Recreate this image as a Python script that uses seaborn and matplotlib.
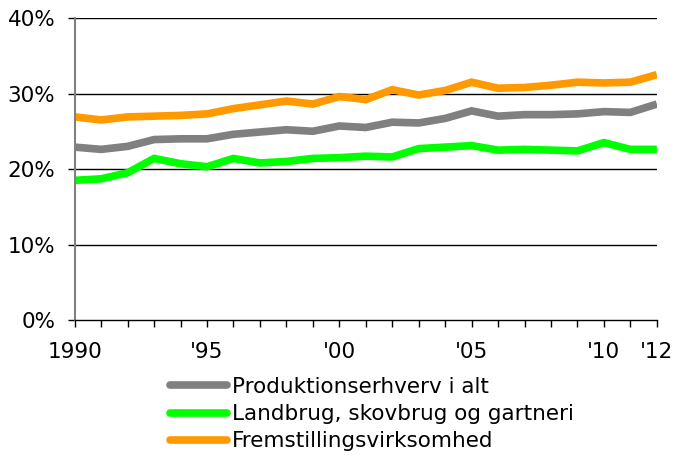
import numpy as np
import pandas as pd
import seaborn as sns
import matplotlib.pyplot as plt
from matplotlib.ticker import FixedLocator, FuncFormatter

years = list(range(1990, 2013))

produktion = [22.9, 22.6, 23.0, 23.9, 24.0, 24.0, 24.6, 24.9, 25.2, 25.0, 25.7, 25.5,
              26.2, 26.1, 26.7, 27.7, 27.0, 27.2, 27.2, 27.3, 27.6, 27.5, 28.6]
landbrug = [18.5, 18.7, 19.5, 21.4, 20.7, 20.3, 21.4, 20.8, 21.0, 21.4, 21.5, 21.7,
            21.6, 22.7, 22.9, 23.1, 22.5, 22.6, 22.5, 22.4, 23.5, 22.6, 22.6]
fremstilling = [26.9, 26.5, 26.9, 27.0, 27.1, 27.3, 28.0, 28.5, 29.0, 28.6, 29.6, 29.2,
                30.5, 29.8, 30.4, 31.5, 30.7, 30.8, 31.1, 31.5, 31.4, 31.5, 32.5]

names = ["Produktionserhverv i alt", "Landbrug, skovbrug og gartneri", "Fremstillingsvirksomhed"]
colors = ["#808080", "#00ff00", "#ff9900"]

tick_years = [1990, 1995, 2000, 2005, 2010, 2012]
tick_labels = ["1990", "'95", "'00", "'05", "'10", "'12"]
y_ticks = [0, 10, 20, 30, 40]

df = pd.DataFrame({
    "year": years * 3,
    "value": produktion + landbrug + fremstilling,
    "serie": [names[0]] * len(years) + [names[1]] * len(years) + [names[2]] * len(years),
})

sns.set_style("white")
plt.rcParams["font.family"] = ["DejaVu Sans"]
plt.rcParams["text.color"] = "black"
plt.rcParams["xtick.color"] = "black"
plt.rcParams["ytick.color"] = "black"

fig = plt.figure(figsize=(6.73, 4.55), dpi=100)
ax = fig.add_axes([0.111, 0.2967, 0.865, 0.6637])

sns.lineplot(data=df, x="year", y="value", hue="serie", hue_order=names,
             palette=colors, linewidth=5.5, ax=ax, legend=False,
             solid_capstyle="butt", solid_joinstyle="miter")

ax.set_xlim(1990, 2012)
ax.set_ylim(0, 40)
ax.set_yticks(y_ticks)
ax.yaxis.set_major_formatter(FuncFormatter(lambda v, p: f"{v:.0f}%"))
for v in y_ticks[1:]:
    ax.axhline(v, color="black", lw=1.0, zorder=0)

ax.xaxis.set_major_locator(FixedLocator(tick_years))
ax.set_xticklabels(tick_labels)
ax.xaxis.set_minor_locator(FixedLocator(years))
ax.tick_params(axis="x", which="both", direction="out", length=5, width=1, color="black",
               bottom=True)
ax.tick_params(axis="x", which="major", pad=11, labelsize=15.5)
ax.tick_params(axis="y", direction="out", length=5, width=1, color="black", left=True,
               labelsize=15.5, pad=9)

ax.set_xlabel("")
ax.set_ylabel("")
for s in ["top", "right"]:
    ax.spines[s].set_visible(False)
ax.spines["left"].set_color("#808080")
ax.spines["left"].set_linewidth(1.5)
ax.spines["bottom"].set_color("black")
ax.spines["bottom"].set_linewidth(1.0)

handles = [plt.Line2D([], [], color=c, lw=5.5, solid_capstyle="round") for c in colors]
fig.legend(handles, names, loc="upper left", bbox_to_anchor=(0.2526, 0.172),
           frameon=False, fontsize=15.5, handlelength=2.65, handletextpad=0.22,
           labelspacing=0.34, borderpad=0, borderaxespad=0)

fig.savefig("out.png", dpi=100)
